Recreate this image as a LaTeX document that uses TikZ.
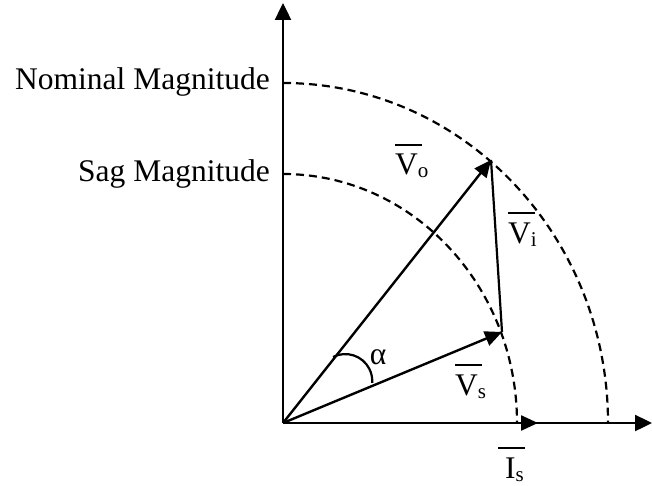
\documentclass[tikz,border=0pt]{standalone}
\usepackage{fontspec}
\setmainfont{Liberation Serif}
\usetikzlibrary{arrows.meta}
\newcommand{\barlab}[3][0pt]{\makebox[0pt][l]{\hspace*{#1}\raisebox{29pt}{\rule{27pt}{2.2pt}}}#2\raisebox{-3pt}{\fontsize{21pt}{24pt}\selectfont #3}}
\begin{document}
\begin{tikzpicture}[x=1pt,y=-1pt,
  lab/.style={inner sep=0pt, font=\fontsize{31.5pt}{36pt}\selectfont},
  axisline/.style={line width=2.4pt, -{Triangle[length=17pt,width=16pt]}},
  vec/.style={line width=2.4pt, -{Triangle[length=17pt,width=15pt]}},
  magarc/.style={line width=2.2pt, dash pattern=on 8pt off 5pt}]
\useasboundingbox (0,0) rectangle (652,486);
\coordinate (O) at (283,423);
\coordinate (ytop) at (283,3);
\coordinate (xend) at (652,423);
\coordinate (istip) at (538,423);
\coordinate (votip) at (491,160);
\coordinate (vstip) at (502,332);
% magnitude arcs
\draw[magarc] (283,83) arc[start angle=-90, end angle=0, x radius=325, y radius=340];
\draw[magarc] (283,174) arc[start angle=-90, end angle=0, x radius=234, y radius=249];
% axes
\draw[axisline] (O) -- (ytop);
\draw[axisline] (O) -- (xend);
\draw[vec] (O) -- (istip);
% phasors
\draw[line width=2.2pt] (vstip) -- (votip);
\draw[vec] (O) -- (votip);
\draw[vec] (O) -- (vstip);
% angle
\draw[line width=2.2pt] (333,357) arc[start angle=-117, end angle=4, radius=27];
% labels
\node[lab, anchor=base east] (nom) at (270,90) {Nominal Magnitude};
\node[lab, anchor=base east] (sag) at (270,182) {Sag Magnitude};
\node[lab, anchor=base west] (vo) at (395,175) {\barlab{V}{o}};
\node[lab, anchor=base west] (vi) at (508,243) {\barlab{V}{i}};
\node[lab, anchor=base west] (vs) at (455,395) {\barlab{V}{s}};
\node[lab, anchor=base west] (is) at (505,478) {\barlab[-7pt]{I}{s}};
\node[lab, anchor=base] (alpha) at (378,364) {α};
\end{tikzpicture}
\end{document}
